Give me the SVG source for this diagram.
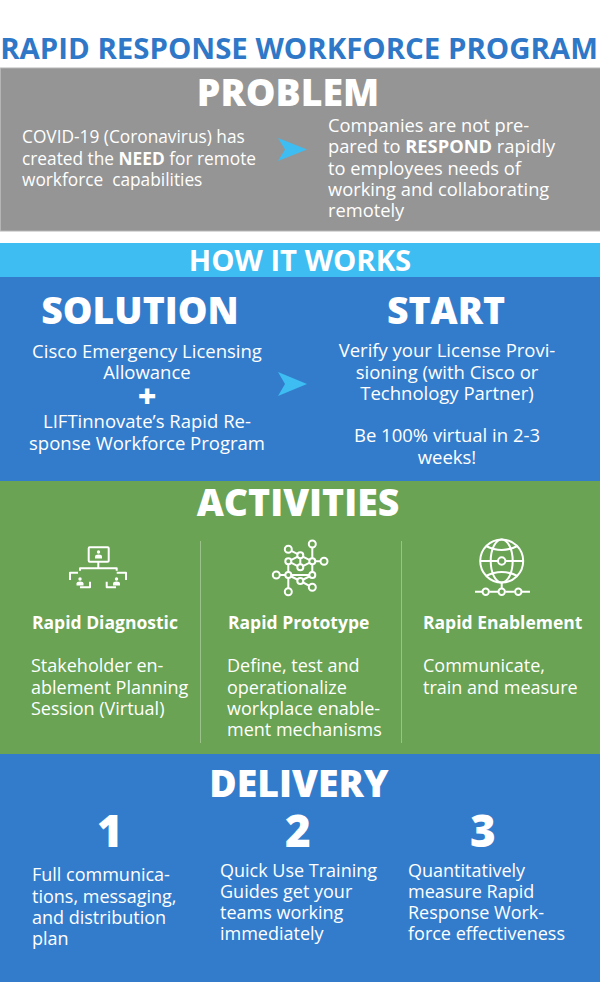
<svg xmlns="http://www.w3.org/2000/svg" width="600" height="982" viewBox="0 0 600 982">
<style>
text{font-family:"Open Sans","Noto Sans",sans-serif;fill:#fff;white-space:pre}
.h{font-size:37.400px;font-weight:800;text-anchor:middle}
.pl{font-size:17.300px}
.pr{font-size:18.300px}
.b{font-size:18px}
.m{font-size:18.500px;text-anchor:middle}
.s{font-weight:700}
.t{font-size:17.500px;font-weight:700}
.n{font-size:44px;font-weight:800;text-anchor:middle}
.i{fill:none;stroke:#fff;stroke-width:2;stroke-linejoin:round}
.d{stroke:#9cc28c;stroke-width:1}
.a{fill:#3dbdf2}
</style>
<rect width="600" height="982" fill="#fff"/>
<g id="title"><text x="299" y="59" text-anchor="middle" font-size="29.400" font-weight="700" style="fill:#2f78c8">RAPID RESPONSE WORKFORCE PROGRAM</text></g>
<g id="problem">
<rect x="0.500" y="68" width="600" height="163" fill="#959595" stroke="#b5b5b5" stroke-width="1"/>
<text class="h" x="288" y="106">PROBLEM</text>
<text class="pl" x="22" y="143">COVID-19 (Coronavirus) has</text>
<text class="pl" x="22" y="165">created the <tspan class="s">NEED</tspan> for remote</text>
<text class="pl" x="22" y="186">workforce  capabilities</text>
<text class="pr" x="328" y="132">Companies are not pre-</text>
<text class="pr" x="328" y="153">pared to <tspan class="s">RESPOND</tspan> rapidly</text>
<text class="pr" x="328" y="175">to employees needs of</text>
<text class="pr" x="328" y="196">working and collaborating</text>
<text class="pr" x="328" y="217">remotely</text>
</g>
<g id="how-it-works">
<rect x="0" y="243" width="600" height="34" fill="#3dbdf2"/>
<text x="300" y="271" text-anchor="middle" font-size="29.300" font-weight="700">HOW IT WORKS</text>
</g>
<g id="solution">
<rect x="0" y="277" width="600" height="204" fill="#337ccc"/>
<text class="h" x="140" y="324">SOLUTION</text>
<text class="m" x="147" y="358">Cisco Emergency Licensing</text>
<text class="m" x="147" y="379">Allowance</text>
<text x="147" y="408" text-anchor="middle" font-size="32" font-weight="800">+</text>
<text class="m" x="147" y="428">LIFTinnovate’s Rapid Re-</text>
<text class="m" x="147" y="450">sponse Workforce Program</text>
</g>
<g id="start">
<text class="h" x="446" y="324">START</text>
<text class="m" x="447" y="357">Verify your License Provi-</text>
<text class="m" x="447" y="379">sioning (with Cisco or</text>
<text class="m" x="447" y="400">Technology Partner)</text>
<text class="m" x="447" y="442">Be 100% virtual in 2-3</text>
<text class="m" x="447" y="464">weeks!</text>
</g>
<g id="connectors">
<path class="a" d="M278 138 L307 149.500 L278 161 L285 149.500Z"/>
<path class="a" d="M278 372 L307 384 L278 396 L285 384Z"/>
</g>
<g id="activities">
<rect x="0" y="481" width="600" height="273" fill="#69a353"/>
<text class="h" x="298" y="516">ACTIVITIES</text>
<line class="d" x1="200.500" y1="541" x2="200.500" y2="743"/>
<line class="d" x1="401.500" y1="541" x2="401.500" y2="743"/>
</g>
<g id="rapid-diagnostic">
<g class="i">
<rect x="88.700" y="547.300" width="20" height="14.500" rx="1"/>
<path d="M98.300 562V568.300M80 570.700V568.300H116.700V570.700M70 580V572.700H78M90 581.700V587.300H80M106.700 581.700V587.300H116M126 580V572.700H116.700"/>
</g>
<g fill="#fff">
<circle cx="98.500" cy="552" r="1.700"/><path d="M95 558.500v-2q0-2 3.500-2t3.500 2v2z"/>
<circle cx="80" cy="579" r="1.700"/><path d="M76.500 585.500v-2q0-2 3.500-2t3.500 2v2z"/>
<circle cx="116.500" cy="579" r="1.700"/><path d="M113 585.500v-2q0-2 3.500-2t3.500 2v2z"/>
</g>
<text class="t" x="32" y="629">Rapid Diagnostic</text>
<text class="b" x="31" y="672">Stakeholder en-</text>
<text class="b" x="31" y="694">ablement Planning</text>
<text class="b" x="31" y="715">Session (Virtual)</text>
</g>
<g id="rapid-prototype">
<g class="i">
<path d="M312.300 544V575M288.300 549.300L300.300 555.300L312.300 561.300L324 561.300M288.300 561.300L300.300 555.300M288.300 561.300V591.700M300.300 555.300V567.300M276.300 575H312.300M288.300 561.300L300.300 567.300L312.300 561.300M288.300 575L300.300 581L312.300 575M300.300 581L312.300 587.300"/>
</g>
<g class="i" style="fill:#69a353">
<circle cx="312.300" cy="544" r="3.500"/><circle cx="288.300" cy="549.300" r="3.500"/><circle cx="300.300" cy="555.300" r="3"/><circle cx="288.300" cy="561.300" r="3"/><circle cx="312.300" cy="561.300" r="3"/><circle cx="324" cy="561.300" r="3.500"/><circle cx="300.300" cy="567.300" r="3"/><circle cx="276.300" cy="575" r="3.500"/><circle cx="288.300" cy="575" r="3"/><circle cx="312.300" cy="575" r="3"/><circle cx="300.300" cy="581" r="3"/><circle cx="312.300" cy="587.300" r="3.500"/><circle cx="288.300" cy="591.700" r="3.500"/>
</g>
<text class="t" x="228" y="629">Rapid Prototype</text>
<text class="b" x="227" y="672">Define, test and</text>
<text class="b" x="227" y="694">operationalize</text>
<text class="b" x="227" y="715">workplace enable-</text>
<text class="b" x="227" y="736">ment mechanisms</text>
</g>
<g id="rapid-enablement">
<g class="i">
<circle cx="501.700" cy="561" r="21.500"/>
<ellipse cx="501.700" cy="561" rx="11" ry="21.500"/>
<path d="M480.200 561H498M505.500 561H523.200M486 546Q501.700 554 517.400 546M486 576Q501.700 568 517.400 576M501.700 582.500V588M475 591.700H482M489.500 591.700H498M505.500 591.700H514.500M522 591.700H530"/>
<circle cx="501.700" cy="561" r="3.700" style="fill:#69a353"/>
<circle cx="485.700" cy="591.700" r="3.200"/><circle cx="501.700" cy="591.700" r="3.200"/><circle cx="518.300" cy="591.700" r="3.200"/>
</g>
<text class="t" x="423" y="629">Rapid Enablement</text>
<text class="b" x="423" y="672">Communicate,</text>
<text class="b" x="423" y="694">train and measure</text>
</g>
<g id="delivery">
<rect x="0" y="754" width="600" height="228" fill="#337ccc"/>
<text class="h" x="299" y="797">DELIVERY</text>
</g>
<g id="delivery-1">
<text class="n" x="110" y="847">1</text>
<text class="b" x="32" y="881">Full communica-</text>
<text class="b" x="32" y="903">tions, messaging,</text>
<text class="b" x="32" y="924">and distribution</text>
<text class="b" x="32" y="945">plan</text>
</g>
<g id="delivery-2">
<text class="n" x="298" y="847">2</text>
<text class="b" x="220" y="877">Quick Use Training</text>
<text class="b" x="220" y="898">Guides get your</text>
<text class="b" x="220" y="919">teams working</text>
<text class="b" x="220" y="940">immediately</text>
</g>
<g id="delivery-3">
<text class="n" x="483" y="847">3</text>
<text class="b" x="408" y="877">Quantitatively</text>
<text class="b" x="408" y="898">measure Rapid</text>
<text class="b" x="408" y="919">Response Work-</text>
<text class="b" x="408" y="940">force effectiveness</text>
</g>
</svg>
